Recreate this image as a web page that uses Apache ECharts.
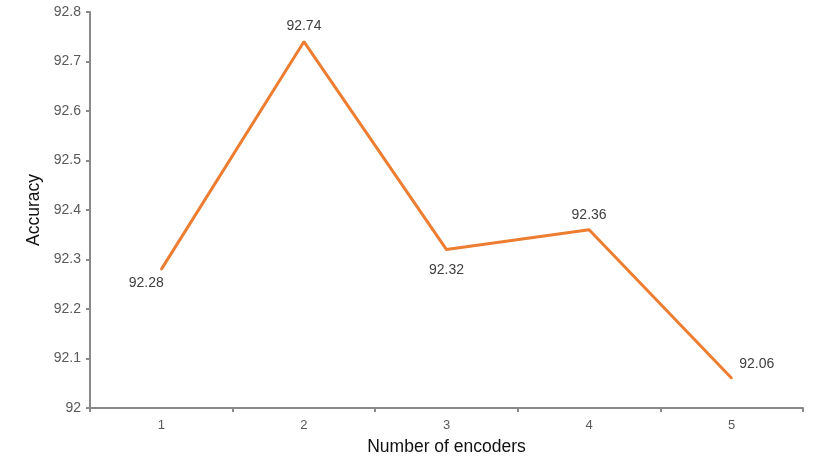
<!DOCTYPE html>
<html>
<head>
<meta charset="utf-8">
<script src="https://cdn.jsdelivr.net/npm/echarts@6/dist/echarts.min.js"></script>
<style>
html, body { margin: 0; padding: 0; background: #fff; }
#chart { width: 830px; height: 467px; }
</style>
</head>
<body>
<div id="chart"></div>
<script>
const categories = ['1', '2', '3', '4', '5']
const accuracy = [92.28, 92.74, 92.32, 92.36, 92.06]
// label placement per point, as in the original figure
const labelOffsets = [[-15, -2], [0, 0], [0, 5], [0, 1], [25, 2]]
const labelPositions = ['bottom', 'top', 'bottom', 'top', 'top']

const axisColor = '#898989'
const textColor = '#404040'

let chart = echarts.init(document.getElementById('chart'))
let option = {
  animation: false,
  grid: { left: 90, right: 27, top: 12, bottom: 59 },
  xAxis: {
    type: 'category',
    data: categories,
    boundaryGap: true,
    name: 'Number of encoders',
    nameLocation: 'middle',
    nameGap: 30,
    nameTextStyle: { color: '#111', fontSize: 17.5, fontFamily: 'Liberation Sans' },
    axisLine: { lineStyle: { color: axisColor, width: 2 } },
    axisTick: { show: true, length: 4, lineStyle: { color: axisColor, width: 2 } },
    axisLabel: { color: '#595959', fontSize: 13, margin: 11, fontFamily: 'Liberation Sans' },
    splitLine: { show: false }
  },
  yAxis: {
    type: 'value',
    min: 92,
    max: 92.8,
    interval: 0.1,
    name: 'Accuracy',
    nameLocation: 'middle',
    nameGap: 45,
    nameTextStyle: { color: '#111', fontSize: 17.5, fontFamily: 'Liberation Sans' },
    axisLine: { show: true, lineStyle: { color: axisColor, width: 2 } },
    axisTick: { show: true, length: 4, lineStyle: { color: axisColor, width: 2 } },
    axisLabel: {
      color: '#595959', fontSize: 14, margin: 9, fontFamily: 'Liberation Sans',
      formatter: v => String(Math.round(v * 10) / 10)
    },
    splitLine: { show: false }
  },
  series: [
    {
      type: 'line',
      data: accuracy.map((v, i) => ({
        value: v,
        label: { show: true, position: labelPositions[i], offset: labelOffsets[i] }
      })),
      symbol: 'circle',
      symbolSize: 2,
      showSymbol: true,
      itemStyle: { color: '#ED7D31' },
      lineStyle: { color: '#ED7D31', width: 3 },
      label: {
        show: true,
        color: textColor,
        fontSize: 14,
        fontFamily: 'Liberation Sans',
        distance: 8
      }
    }
  ]
}
chart.setOption(option)
</script>
</body>
</html>
